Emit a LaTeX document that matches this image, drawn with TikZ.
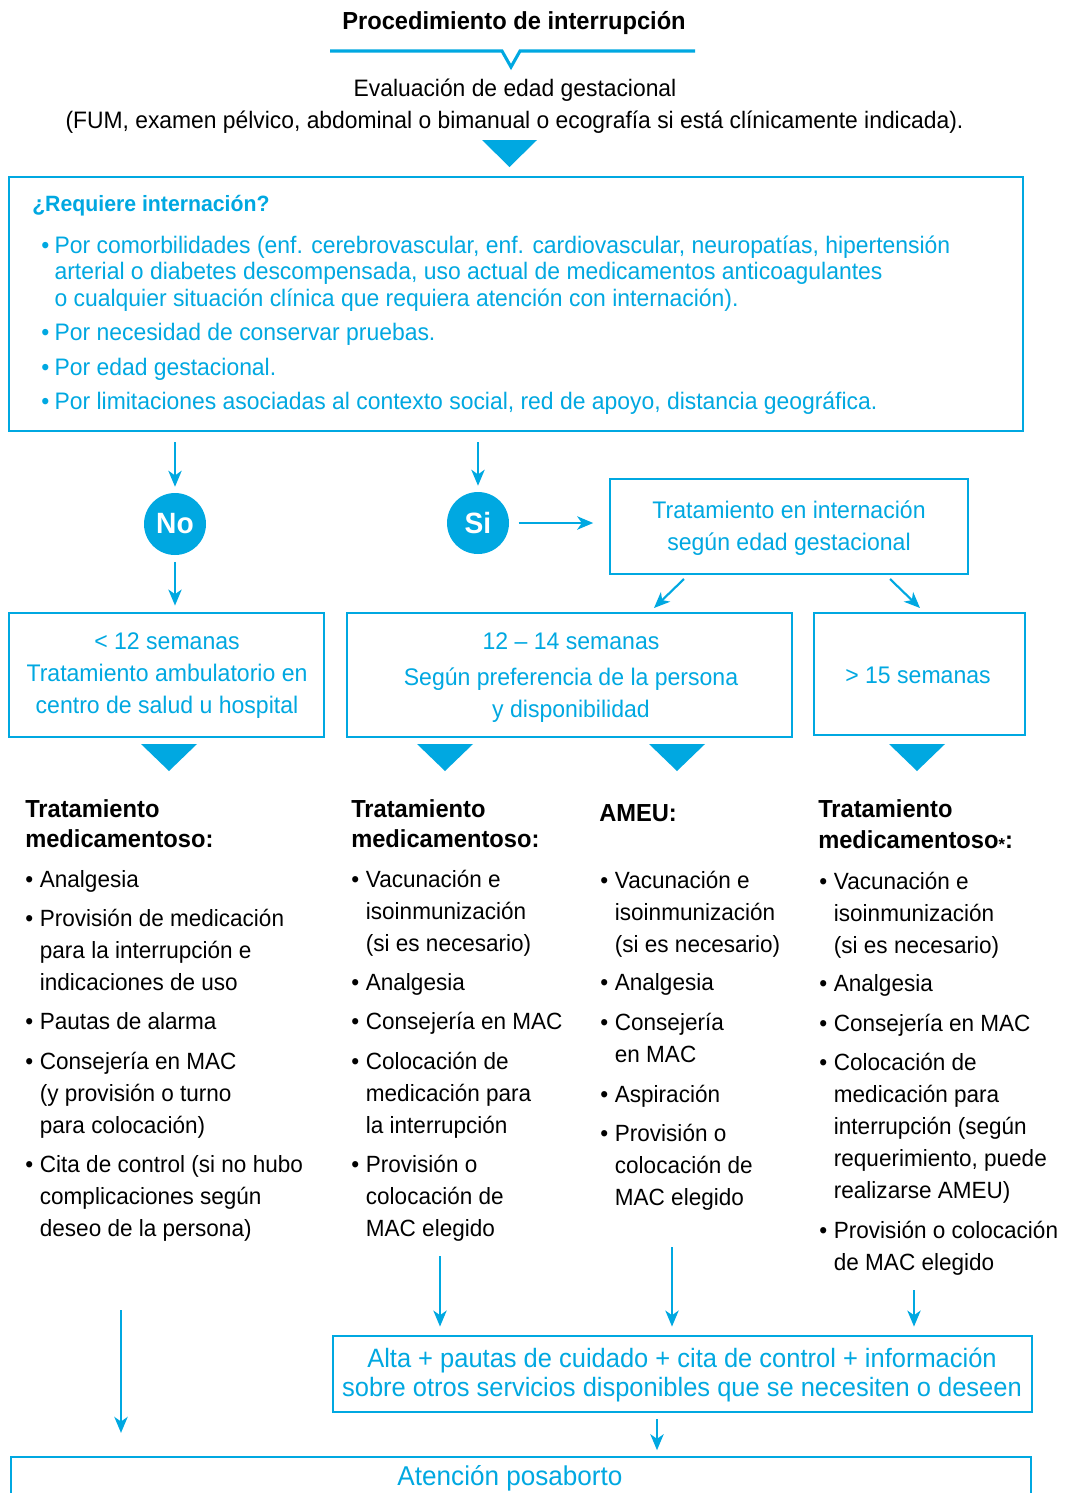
\documentclass[tikz,border=0pt]{standalone}
\usepackage{fontspec}
\setmainfont{Liberation Sans}[FakeStretch=0.96]
\usetikzlibrary{arrows.meta,fit}
\definecolor{cy}{HTML}{00A8E1}
\newcommand\ml[1]{\begin{tabular}[t]{@{}l@{}}#1\end{tabular}}
\newcommand\bu{\makebox[11pt][l]{\textbullet}}
\newcommand\mc[1]{\begin{tabular}[t]{@{}c@{}}#1\end{tabular}}
\begin{document}
\begin{tikzpicture}[x=0.75pt,y=-0.75pt,
  box/.style={draw=cy, line width=2.2pt, inner sep=0pt},
  arr/.style={draw=cy, line width=1.6pt, -{Stealth[length=12pt,width=10pt,inset=3.5pt]}},
  body/.style={inner sep=0pt, anchor=base west, font=\fontsize{17.6pt}{24pt}\selectfont, text=black},
  head/.style={inner sep=0pt, anchor=base west, font=\bfseries\fontsize{18.5pt}{22.5pt}\selectfont, text=black},
  btxt/.style={inner sep=0pt, anchor=base, font=\fontsize{18pt}{24pt}\selectfont, text=cy},
  rtxt/.style={inner sep=0pt, anchor=base west, font=\fontsize{17.9pt}{19.9pt}\selectfont, text=cy},
  circ/.style={circle, fill=cy, minimum size=46.5pt, inner sep=0pt, text=white, font=\bfseries\fontsize{22pt}{24pt}\selectfont}
]
\useasboundingbox (0,0) rectangle (1072,1493);
\fill[white] (0,0) rectangle (1072,1493);

% title
\node[inner sep=0pt, anchor=base, font=\bfseries\fontsize{18.5pt}{22pt}\selectfont] (title) at (514,29) {Procedimiento de interrupción};
\draw[cy, line width=2.3pt, line join=miter] (330,51) -- (502,51) -- (511,67) -- (520,51) -- (695,51);
\node[inner sep=0pt, anchor=base, font=\fontsize{17.85pt}{24pt}\selectfont] (eval1) at (515,96) {Evaluación de edad gestacional};
\node[inner sep=0pt, anchor=base, font=\fontsize{17.85pt}{24pt}\selectfont] (eval2) at (514.5,128) {(FUM, examen pélvico, abdominal o bimanual o ecografía si está clínicamente indicada).};
\fill[cy] (482,140) -- (537,140) -- (509.5,167) -- cycle;

% requiere box
\node[box, fit={(9,177) (1023,431)}] (req) {};
\node[inner sep=0pt, anchor=base west, font=\bfseries\fontsize{16.6pt}{22pt}\selectfont, text=cy] (reqh) at (32,211) {¿Requiere internación?};
\node[rtxt] (r1) at (41,253) {\makebox[10pt][l]{\textbullet}\ml{Por comorbilidades (enf. cerebrovascular, enf. cardiovascular, neuropatías, hipertensión\\arterial o diabetes descompensada, uso actual de medicamentos anticoagulantes\\o cualquier situación clínica que requiera atención con internación).}};
\node[rtxt] (r2) at (41,340) {\makebox[10pt][l]{\textbullet}Por necesidad de conservar pruebas.};
\node[rtxt] (r3) at (41,375) {\makebox[10pt][l]{\textbullet}Por edad gestacional.};
\node[rtxt] (r4) at (41,409) {\makebox[10pt][l]{\textbullet}Por limitaciones asociadas al contexto social, red de apoyo, distancia geográfica.};

% decision
\node[circ] (no) at (175,524) {No};
\node[circ] (si) at (478,523) {Si};
\node[box, fit={(610,479) (968,574)}] (inter) {};
\node[btxt] (intert) at (789,518) {\mc{Tratamiento en internación\\según edad gestacional}};

% row of boxes
\node[box, fit={(9,613) (324,737)}] (b1) {};
\node[box, fit={(347,613) (792,737)}] (b2) {};
\node[box, fit={(814,613) (1025,735)}] (b3) {};
\node[btxt] (b1t) at (167,649) {\mc{< 12 semanas\\Tratamiento ambulatorio en\\centro de salud u hospital}};
\node[btxt] (b2a) at (571,649) {12 – 14 semanas};
\node[btxt] (b2b) at (571,685) {\mc{Según preferencia de la persona\\y disponibilidad}};
\node[btxt] (b3t) at (918,683) {> 15 semanas};

% arrows
\draw[arr, shorten <=7.5pt, shorten >=4.5pt] (req.south -| no) -- (no.north);
\draw[arr, shorten <=7.5pt, shorten >=4.5pt] (req.south -| si) -- (si.north);
\draw[arr, shorten <=5pt, shorten >=4.5pt] (no.south) -- (b1.north -| no);
\draw[arr, shorten <=7pt, shorten >=11.5pt] (si.east) -- (si.east -| inter.west);
\coordinate (d1s) at (684,579);
\coordinate (d1e) at (654,608);
\coordinate (d2s) at (890,579);
\coordinate (d2e) at (920,608);
\draw[arr] (d1s) -- (d1e);
\draw[arr] (d2s) -- (d2e);

% triangles
\foreach \cx in {169,445,677,917}{
  \fill[cy] (\cx-28,744) -- (\cx+28,744) -- (\cx,771) -- cycle;
}

% column 1
\node[head] (h1a) at (25,817) {Tratamiento};
\node[head] (h1b) at (25,847) {medicamentoso:};
\node[body] (c1a) at (25,887) {\bu Analgesia};
\node[body] (c1b) at (25,926) {\bu\ml{Provisión de medicación\\para la interrupción e\\indicaciones de uso}};
\node[body] (c1c) at (25,1029) {\bu Pautas de alarma};
\node[body] (c1d) at (25,1069) {\bu\ml{Consejería en MAC\\(y provisión o turno\\para colocación)}};
\node[body] (c1e) at (25,1172) {\bu\ml{Cita de control (si no hubo\\complicaciones según\\deseo de la persona)}};

% column 2
\node[head] (h2a) at (351,817) {Tratamiento};
\node[head] (h2b) at (351,847) {medicamentoso:};
\node[body] (c2a) at (351,887) {\bu\ml{Vacunación e\\isoinmunización\\(si es necesario)}};
\node[body] (c2b) at (351,990) {\bu Analgesia};
\node[body] (c2c) at (351,1029) {\bu Consejería en MAC};
\node[body] (c2d) at (351,1069) {\bu\ml{Colocación de\\medicación para\\la interrupción}};
\node[body] (c2e) at (351,1172) {\bu\ml{Provisión o\\colocación de\\MAC elegido}};

% column 3
\node[head] (h3a) at (599,821) {AMEU:};
\node[body] (c3a) at (600,888) {\bu\ml{Vacunación e\\isoinmunización\\(si es necesario)}};
\node[body] (c3b) at (600,990) {\bu Analgesia};
\node[body] (c3c) at (600,1030) {\bu\ml{Consejería\\en MAC}};
\node[body] (c3d) at (600,1102) {\bu Aspiración};
\node[body] (c3e) at (600,1141) {\bu\ml{Provisión o\\colocación de\\MAC elegido}};

% column 4
\node[head] (h4a) at (818,817) {Tratamiento};
\node[head] (h4b) at (818,848) {medicamentoso\raisebox{-0.12em}{\fontsize{13pt}{13pt}\selectfont *}:};
\node[body] (c4a) at (819,889) {\bu\ml{Vacunación e\\isoinmunización\\(si es necesario)}};
\node[body] (c4b) at (819,991) {\bu Analgesia};
\node[body] (c4c) at (819,1031) {\bu Consejería en MAC};
\node[body] (c4d) at (819,1070) {\bu\ml{Colocación de\\medicación para\\interrupción (según\\requerimiento, puede\\realizarse AMEU)}};
\node[body] (c4e) at (819,1238) {\bu\ml{Provisión o colocación\\de MAC elegido}};

% bottom boxes
\node[box, fit={(333,1336) (1032,1412)}] (alta) {};
\node[btxt, font=\fontsize{19.9pt}{21.8pt}\selectfont] (altat) at (682,1367) {\mc{Alta + pautas de cuidado + cita de control + información\\sobre otros servicios disponibles que se necesiten o deseen}};
\node[box, fit={(11,1457) (1031,1530)}] (pos) {};
\node[btxt, font=\fontsize{20.4pt}{24pt}\selectfont] (post) at (510,1485) {Atención posaborto};

\coordinate (s1) at (121,1310);
\coordinate (s2) at (440,1256);
\coordinate (s3) at (672,1247);
\coordinate (s4) at (914,1290);
\draw[arr, shorten >=17pt] (s1) -- (s1 |- pos.north);
\draw[arr, shorten >=6pt] (s2) -- (s2 |- alta.north);
\draw[arr, shorten >=6pt] (s3) -- (s3 |- alta.north);
\draw[arr, shorten >=6pt] (s4) -- (s4 |- alta.north);
\draw[arr, shorten <=4.5pt, shorten >=4pt] (alta.south -| 657,0) -- (pos.north -| 657,0);
\end{tikzpicture}
\end{document}
